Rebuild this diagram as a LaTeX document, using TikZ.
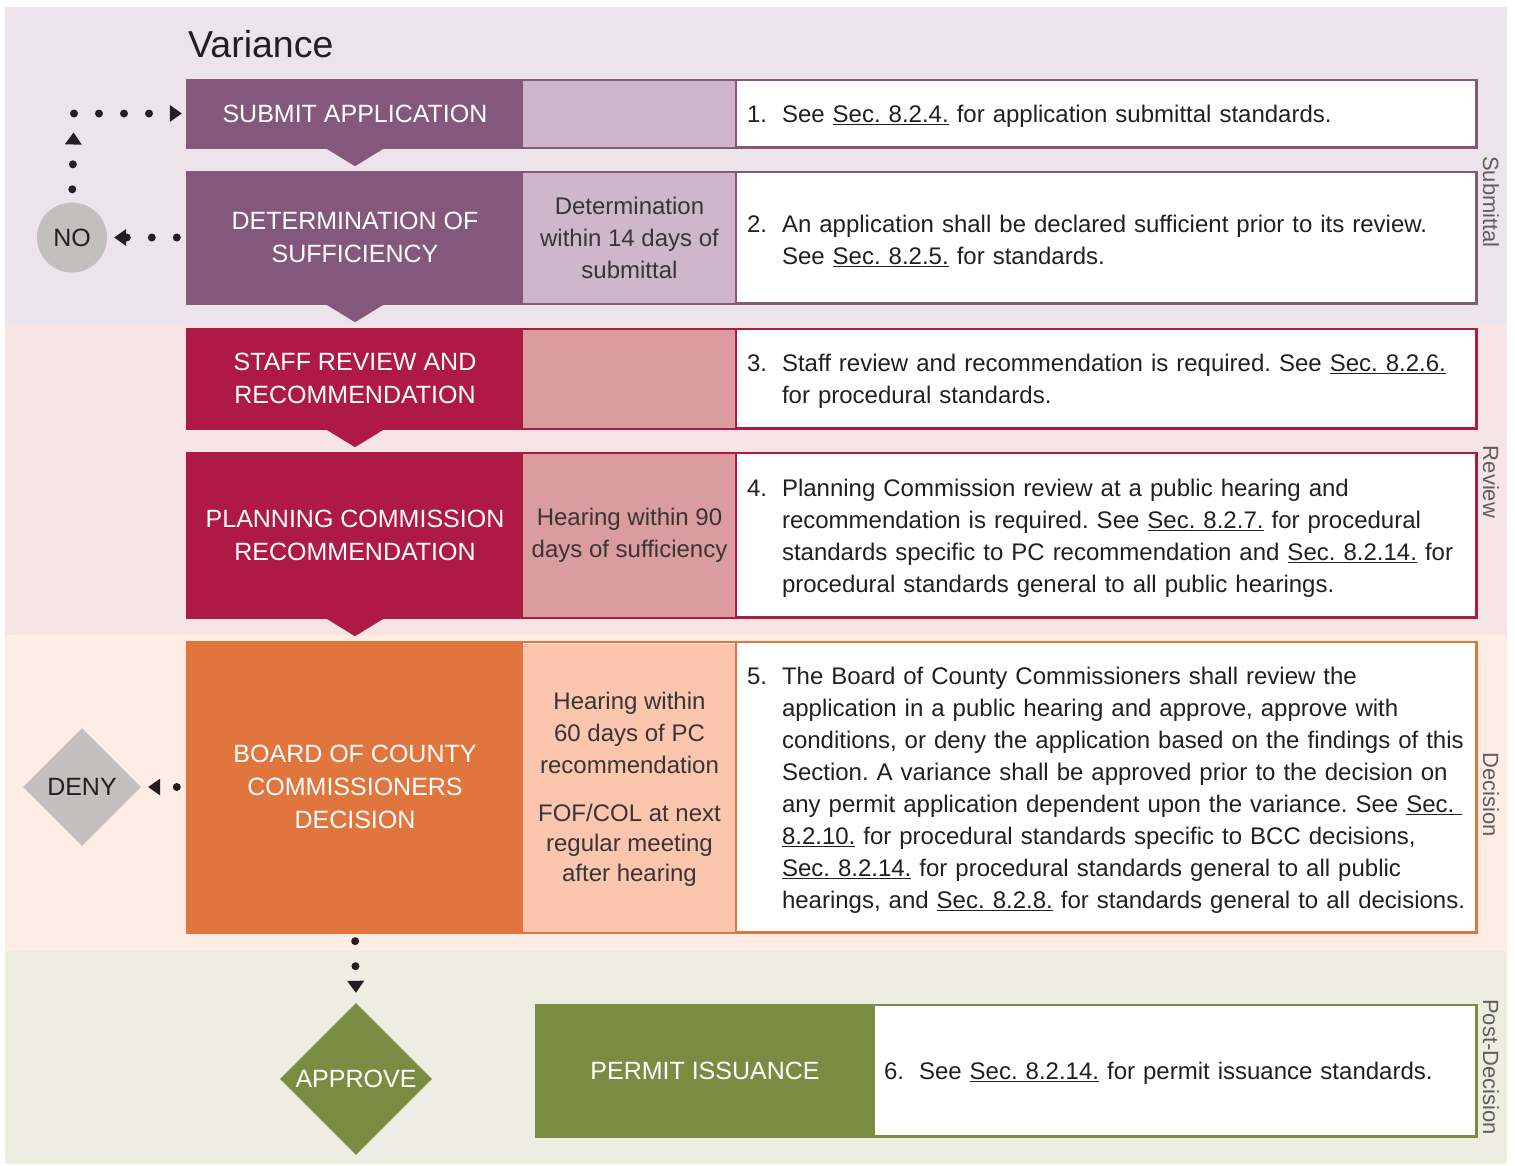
\documentclass[tikz,border=0pt]{standalone}
\usepackage{fontspec}
\setmainfont{Liberation Sans}
\usetikzlibrary{shapes.geometric,arrows.meta}
\frenchspacing

\definecolor{bandSub}{HTML}{EDE3EB}
\definecolor{bandRev}{HTML}{F6E5E4}
\definecolor{bandDec}{HTML}{FEECE5}
\definecolor{bandPost}{HTML}{EDEDE2}
\definecolor{subDark}{HTML}{84577C}
\definecolor{subLight}{HTML}{CEB7CA}
\definecolor{revDark}{HTML}{AF1A45}
\definecolor{revLight}{HTML}{DA9C9E}
\definecolor{decDark}{HTML}{E0753E}
\definecolor{decLight}{HTML}{FCC6AE}
\definecolor{postDark}{HTML}{7A8C41}
\definecolor{stopGrey}{HTML}{C4BFBF}
\definecolor{ink}{HTML}{231F20}
\definecolor{sideGrey}{HTML}{5E5E5E}

\newcommand{\seclink}[1]{\underline{#1}}
\newcommand{\noteitem}[2]{\noindent\rule{0pt}{23.5pt}\makebox[35pt][l]{#1}\parbox[t]{720pt}{\raggedright #2}}

\tikzset{
    stage/.style={fill=#1, text=white, minimum width=336pt, inner sep=0pt, align=center,
        font=\fontsize{25}{33}\selectfont},
    timebox/.style={fill=#1, text=ink!90, minimum width=213pt, inner sep=0pt, align=center,
        font=\fontsize{24}{32}\selectfont},
    notebox/.style={fill=white, draw=#1, line width=2pt, text=ink, text width=718pt,
        inner xsep=11pt, inner ysep=0pt, align=left, font=\fontsize{24}{32}\selectfont},
    rowframe/.style={draw=#1, line width=2.5pt},
    dotarrow/.style={ink, line width=8pt, line cap=round, dash pattern=on 0pt off 25pt,
        -{Triangle[length=12pt, width=17pt, line width=0pt]}},
    sidelabel/.style={rotate=-90, text=sideGrey, inner sep=0pt, font=\fontsize{22}{26}\selectfont},
    stopnode/.style={fill=stopGrey, text=ink, inner sep=0pt, font=\fontsize{25}{30}\selectfont}
}

\begin{document}
\begin{tikzpicture}[x=1pt, y=-1pt]
    \useasboundingbox (0, 0) rectangle (1515, 1165);

    % Phase bands
    \fill[bandSub] (5, 7) rectangle (1507, 324);
    \fill[bandRev] (5, 324) rectangle (1507, 635);
    \fill[bandDec] (5, 635) rectangle (1507, 951);
    \fill[bandPost] (5, 951) rectangle (1507, 1164);

    \node (title) at (188, 44) [anchor=west, inner sep=0pt, text=ink, font=\fontsize{37.5}{40}\selectfont] {Variance};

    % Submittal
    \node (sub) at (355, 113.5) [stage=subDark, minimum height=67pt] {SUBMIT APPLICATION};
    \node (subT) at (629.5, 113.5) [timebox=subLight, minimum height=67pt] {};
    \node (subN) at (1106, 113.5) [notebox=subDark, minimum height=67pt]
        {\noteitem{1.}{See \seclink{Sec. 8.2.4.} for application submittal standards.}};
    \draw[rowframe=subDark] (sub.north west) rectangle (subN.south east);

    \node (det) at (355, 237.5) [stage=subDark, minimum height=131pt] {DETERMINATION OF\\SUFFICIENCY};
    \node (detT) at (629.5, 237.5) [timebox=subLight, minimum height=131pt] {Determination\\within 14 days of\\submittal};
    \node (detN) at (1106, 237.5) [notebox=subDark, minimum height=131pt]
        {\noteitem{2.}{An application shall be declared sufficient prior to its review.\\
        See \seclink{Sec. 8.2.5.} for standards.}};
    \draw[rowframe=subDark] (det.north west) rectangle (detN.south east);

    % Review
    \node (staff) at (355, 378.5) [stage=revDark, minimum height=99pt] {STAFF REVIEW AND\\RECOMMENDATION};
    \node (staffT) at (629.5, 378.5) [timebox=revLight, minimum height=99pt] {};
    \node (staffN) at (1106, 378.5) [notebox=revDark, minimum height=99pt]
        {\noteitem{3.}{Staff review and recommendation is required. See \seclink{Sec. 8.2.6.}\\
        for procedural standards.}};
    \draw[rowframe=revDark] (staff.north west) rectangle (staffN.south east);

    \node (pc) at (355, 535) [stage=revDark, minimum height=164pt] {PLANNING COMMISSION\\RECOMMENDATION};
    \node (pcT) at (629.5, 535) [timebox=revLight, minimum height=164pt] {Hearing within 90\\days of sufficiency};
    \node (pcN) at (1106, 535) [notebox=revDark, minimum height=164pt]
        {\noteitem{4.}{Planning Commission review at a public hearing and\\
        recommendation is required. See \seclink{Sec. 8.2.7.} for procedural\\
        standards specific to PC recommendation and \seclink{Sec. 8.2.14.} for\\
        procedural standards general to all public hearings.}};
    \draw[rowframe=revDark] (pc.north west) rectangle (pcN.south east);

    % Decision
    \node (bcc) at (355, 787) [stage=decDark, minimum height=290pt] {BOARD OF COUNTY\\COMMISSIONERS\\DECISION};
    \node (bccT) at (629.5, 789) [timebox=decLight, minimum height=290pt]
        {Hearing within\\60 days of PC\\recommendation\\[16pt]FOF/COL at next\\[-2pt]regular meeting\\[-2pt]after hearing};
    \node (bccN) at (1106, 787) [notebox=decDark, minimum height=290pt]
        {\noteitem{5.}{The Board of County Commissioners shall review the\\
        application in a public hearing and approve, approve with\\
        conditions, or deny the application based on the findings of this\\
        Section. A variance shall be approved prior to the decision on\\
        any permit application dependent upon the variance. See \seclink{Sec.\ }\\
        \seclink{8.2.10.} for procedural standards specific to BCC decisions,\\
        \seclink{Sec. 8.2.14.} for procedural standards general to all public\\
        hearings, and \seclink{Sec. 8.2.8.} for standards general to all decisions.}};
    \draw[rowframe=decDark] (bcc.north west) rectangle (bccN.south east);

    % Post-Decision
    \node (permit) at (705, 1070.5) [stage=postDark, minimum width=338pt, minimum height=131pt] {PERMIT ISSUANCE};
    \node (permitN) at (1175, 1070.5) [notebox=postDark, text width=582pt, inner xsep=10pt, minimum height=131pt]
        {\noteitem{6.}{See \seclink{Sec. 8.2.14.} for permit issuance standards.}};
    \draw[rowframe=postDark] (permit.north west) rectangle (permitN.south east);

    % Pointers between steps
    \foreach \n/\c in {sub/subDark, det/subDark, staff/revDark, pc/revDark}
        \fill[\c] (\n.south) ++(-31, 0) -- ++(62, 0) -- ++(-31, 19) -- cycle;

    % Outcomes
    \node (no) at (72, 237.5) [stopnode, circle, minimum size=70pt] {NO};
    \node (deny) at (82, 787) [stopnode, diamond, minimum width=118pt, minimum height=118pt] {DENY};
    \node (approve) at (356, 1079) [stopnode, diamond, fill=postDark, text=white, minimum width=152pt, minimum height=152pt] {APPROVE};
    \coordinate (corner) at (74, 113.5);

    % Dotted connectors
    \draw[dotarrow, shorten <=10pt, shorten >=7pt] (det.west) -- (no.east);
    \draw[dotarrow, shorten <=13pt, shorten >=19pt] (no.north) -- (corner);
    \draw[dotarrow, shorten >=5pt] (corner) -- (sub.west);
    \draw[dotarrow, shorten <=10pt, shorten >=7pt] (bcc.west) -- (deny.east);
    \draw[dotarrow, shorten <=9pt, shorten >=10pt] (bcc.south) -- (approve.north);

    % Phase labels
    \node (lblSub) at (1491, 202) [sidelabel] {Submittal};
    \node (lblRev) at (1491, 482) [sidelabel] {Review};
    \node (lblDec) at (1491, 795) [sidelabel] {Decision};
    \node (lblPost) at (1491, 1067) [sidelabel] {Post-Decision};
\end{tikzpicture}
\end{document}
